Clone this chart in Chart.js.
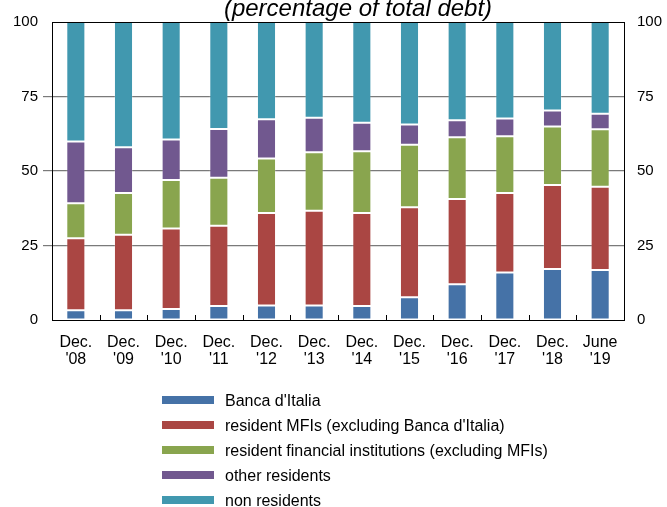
<!DOCTYPE html>
<html>
<head>
<meta charset="utf-8">
<script src="https://cdn.jsdelivr.net/npm/chart.js@4.4.1/dist/chart.umd.min.js"></script>
<style>
  html, body { margin: 0; padding: 0; background: #fff; }
  #wrap { position: relative; width: 667px; height: 507px; }
  #legend { position: absolute; left: 162px; top: 388px; font-family: "Liberation Sans", Arial, sans-serif; font-size: 16px; color: #000; }
  #legend .row { height: 25px; line-height: 25px; white-space: nowrap; }
  #legend .box { display: inline-block; width: 52px; height: 8px; margin-right: 11px; vertical-align: middle; position: relative; top: -2px; }
</style>
</head>
<body>
<div id="wrap">
  <canvas id="barChart"></canvas>
  <div id="legend"></div>
</div>
<script>
// categories (two-line labels)
var categories = [
  ['Dec.', "'08"], ['Dec.', "'09"], ['Dec.', "'10"], ['Dec.', "'11"],
  ['Dec.', "'12"], ['Dec.', "'13"], ['Dec.', "'14"], ['Dec.', "'15"],
  ['Dec.', "'16"], ['Dec.', "'17"], ['Dec.', "'18"], ['June', "'19"]
];

// series values (percentage of total debt)
var bancaItalia = [3.3, 3.3, 3.7, 4.7, 4.9, 4.9, 4.7, 7.6, 12.0, 15.9, 17.1, 16.8];
var residentMFIs = [24.1, 25.3, 27.0, 26.9, 31.0, 31.8, 31.2, 30.2, 28.6, 26.7, 28.2, 27.9];
var residentFinancial = [11.8, 14.0, 16.3, 16.1, 18.3, 19.6, 20.7, 21.0, 20.7, 19.1, 19.6, 19.3];
var otherResidents = [20.7, 15.4, 13.6, 16.4, 13.2, 11.6, 9.6, 6.8, 5.7, 5.9, 5.4, 5.2];
var nonResidents = [40.1, 42.0, 39.4, 35.9, 32.6, 32.1, 33.8, 34.4, 33.0, 32.4, 29.7, 30.8];

var seriesNames = [
  "Banca d'Italia",
  "resident MFIs (excluding Banca d'Italia)",
  'resident financial institutions (excluding MFIs)',
  'other residents',
  'non residents'
];
var seriesData = [bancaItalia, residentMFIs, residentFinancial, otherResidents, nonResidents];
var seriesColors = ['#4572a7', '#aa4643', '#89a54e', '#71588f', '#4198af'];

// y axis ticks
var yTicks = [0, 25, 50, 75, 100];

var FONT = '"Liberation Sans", Arial, sans-serif';

var datasets = seriesData.map(function (d, i) {
  return {
    label: seriesNames[i],
    data: d,
    backgroundColor: seriesColors[i],
    borderColor: 'rgba(255,255,255,0.2)',
    borderWidth: 1,
    borderSkipped: false,
    barPercentage: 0.4,
    categoryPercentage: 1.0
  };
});

// frame, inner x ticks and title
var framePlugin = {
  id: 'frame',
  afterDatasetsDraw: function (chart) {
    var ctx = chart.ctx;
    var a = chart.chartArea;
    var xs = chart.scales.x;
    ctx.save();
    ctx.strokeStyle = '#000';
    ctx.lineWidth = 1;
    ctx.beginPath();
    for (var i = 0; i < categories.length - 1; i++) {
      var px = Math.round((xs.getPixelForValue(i) + xs.getPixelForValue(i + 1)) / 2) + 0.5;
      ctx.moveTo(px, a.bottom);
      ctx.lineTo(px, a.bottom - 5);
    }
    ctx.stroke();
    ctx.strokeRect(Math.round(a.left) + 0.5, Math.round(a.top) + 0.5,
      Math.round(a.right - a.left), Math.round(a.bottom - a.top));
    ctx.restore();
  },
  afterDraw: function (chart) {
    var ctx = chart.ctx;
    var a = chart.chartArea;
    ctx.save();
    ctx.font = 'italic 24px ' + FONT;
    ctx.fillStyle = '#000';
    ctx.textAlign = 'center';
    ctx.textBaseline = 'alphabetic';
    ctx.fillText('(percentage of total debt)', (a.left + a.right) / 2 + 20, 16);
    ctx.restore();
  }
};

function hideEnds(c) {
  var v = c.tick ? c.tick.value : null;
  return (v === 0 || v === 100) ? 'rgba(0,0,0,0)' : '#7a7a7a';
}

var canvas = document.getElementById('barChart').getContext('2d');

new Chart(canvas, {
  type: 'bar',
  data: { labels: categories, datasets: datasets },
  options: {
    responsive: true,
    maintainAspectRatio: false,
    animation: false,
    layout: { padding: { top: 20, left: 0, right: 0, bottom: 0 } },
    plugins: {
      legend: { display: false },
      title: { display: false },
      tooltip: { enabled: false }
    },
    scales: {
      x: {
        stacked: true,
        grid: { display: false, drawTicks: false },
        border: { display: false },
        ticks: {
          color: '#000',
          font: { family: FONT, size: 16, lineHeight: 1.06 },
          padding: 14,
          maxRotation: 0,
          autoSkip: false
        },
        afterFit: function (s) { s.height = 187; }
      },
      y: {
        stacked: true,
        position: 'left',
        min: 0,
        max: 100,
        afterBuildTicks: function (s) { s.ticks = yTicks.map(function (v) { return { value: v }; }); },
        grid: { color: hideEnds, lineWidth: 1.2, tickLength: 9, drawTicks: true },
        border: { display: false },
        ticks: { color: '#000', font: { family: FONT, size: 15 }, padding: 5 },
        afterFit: function (s) { s.width = 52; }
      },
      y2: {
        position: 'right',
        min: 0,
        max: 100,
        afterBuildTicks: function (s) { s.ticks = yTicks.map(function (v) { return { value: v }; }); },
        grid: { display: false, drawTicks: false },
        border: { display: false },
        ticks: { color: '#000', font: { family: FONT, size: 15 }, padding: 13 },
        afterFit: function (s) { s.width = 43; }
      }
    }
  },
  plugins: [framePlugin]
});

// legend built from the same series
var legendEl = document.getElementById('legend');
seriesNames.forEach(function (name, i) {
  var row = document.createElement('div');
  row.className = 'row';
  var box = document.createElement('span');
  box.className = 'box';
  box.style.background = seriesColors[i];
  row.appendChild(box);
  row.appendChild(document.createTextNode(name));
  legendEl.appendChild(row);
});
</script>
</body>
</html>
